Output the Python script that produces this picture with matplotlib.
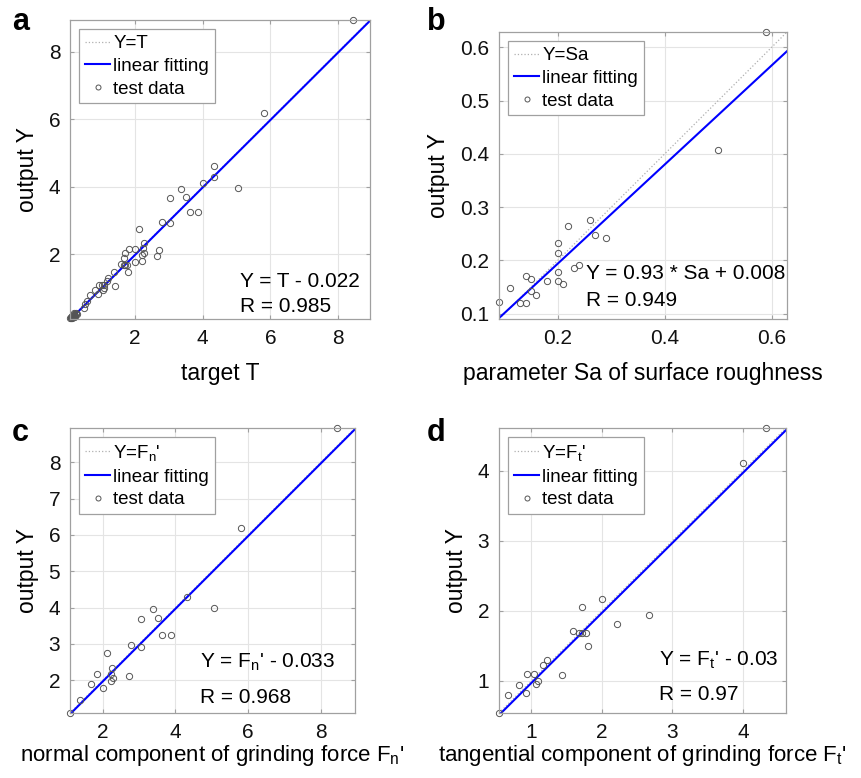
import matplotlib
matplotlib.use("Agg")
import matplotlib.pyplot as plt
import numpy as np

plt.rcParams['font.family'] = ['Liberation Sans', 'DejaVu Sans']
plt.rcParams['mathtext.fontset'] = 'custom'
plt.rcParams['mathtext.rm'] = 'Liberation Sans'
plt.rcParams['mathtext.it'] = 'Liberation Sans'

# ---- data ----
b_target = [0.589, 0.499, 0.260, 0.219, 0.270, 0.290, 0.200, 0.200, 0.240, 0.230, 0.200,
            0.140, 0.150, 0.179, 0.200, 0.210, 0.110, 0.150, 0.160, 0.090, 0.130, 0.140]
b_output = [0.629, 0.408, 0.276, 0.264, 0.248, 0.243, 0.2325, 0.214, 0.191, 0.185, 0.179,
            0.171, 0.165, 0.162, 0.161, 0.156, 0.148, 0.142, 0.135, 0.1225, 0.120, 0.120]

c_target = [8.45, 5.81, 4.33, 5.05, 3.37, 3.52, 3.05, 3.64, 3.87, 2.79, 3.05,
            2.13, 2.26, 2.23, 1.84, 2.28, 2.22, 2.72, 1.69, 2.00, 1.38, 1.10]
c_output = [8.94, 6.19, 4.30, 3.98, 3.95, 3.71, 3.68, 3.25, 3.25, 2.96, 2.92,
            2.75, 2.33, 2.18, 2.17, 2.05, 1.99, 2.12, 1.90, 1.79, 1.47, 1.11]

d_target = [4.33, 4.00, 2.00, 1.71, 2.67, 2.22, 1.59, 1.68, 1.72, 1.78, 1.80,
            1.22, 1.17, 1.43, 0.94, 1.03, 1.10, 1.07, 0.825, 0.92, 0.67, 0.54]
d_output = [4.61, 4.11, 2.17, 2.05, 1.94, 1.81, 1.71, 1.68, 1.68, 1.68, 1.49,
            1.30, 1.22, 1.08, 1.09, 1.09, 1.00, 0.96, 0.94, 0.82, 0.79, 0.545]

# panel a shows all test data together
a_target = b_target + c_target + d_target
a_output = b_output + c_output + d_output

fits = {'a': (1.0, -0.022), 'b': (0.93, 0.008), 'c': (1.0, -0.033), 'd': (1.0, -0.03)}
eq_texts = {'a': "Y = T - 0.022", 'b': "Y = 0.93 * Sa + 0.008",
            'c': r"Y = F$_\mathregular{n}$' - 0.033", 'd': r"Y = F$_\mathregular{t}$' - 0.03"}
r_texts = {'a': "R = 0.985", 'b': "R = 0.949", 'c': "R = 0.968", 'd': "R = 0.97"}
ident_labels = {'a': "Y=T", 'b': "Y=Sa", 'c': r"Y=F$_\mathregular{n}$'", 'd': r"Y=F$_\mathregular{t}$'"}
xlabels = {'a': "target T", 'b': "parameter Sa of surface roughness",
           'c': r"normal component of grinding force F$_\mathregular{n}$'",
           'd': r"tangential component of grinding force F$_\mathregular{t}$'"}
xticks = {'a': [2, 4, 6, 8], 'b': [0.2, 0.4, 0.6], 'c': [2, 4, 6, 8], 'd': [1, 2, 3, 4]}
yticks = {'a': [2, 4, 6, 8], 'b': [0.1, 0.2, 0.3, 0.4, 0.5, 0.6],
          'c': [2, 3, 4, 5, 6, 7, 8], 'd': [1, 2, 3, 4]}
data = {'a': (a_target, a_output), 'b': (b_target, b_output),
        'c': (c_target, c_output), 'd': (d_target, d_output)}

W, H = 861, 778
fig = plt.figure(figsize=(W / 100, H / 100), dpi=100)

# axes boxes in pixels: left, top, right, bottom
boxes = {'a': (70, 20, 370, 319), 'b': (499, 32, 787, 319),
         'c': (70, 428, 355, 713), 'd': (499, 428, 786, 713)}
text_pos = {'a': (0.567, 0.125, 0.041), 'b': (0.301, 0.157, 0.066),
            'c': (0.456, 0.176, 0.054), 'd': (0.559, 0.185, 0.064)}
label_pos = {'a': (12, 22), 'b': (427, 22), 'c': (12, 433), 'd': (427, 433)}
xlabel_style = {'a': (16.5, 10), 'b': (16.5, 10), 'c': (16.0, 1), 'd': (16.0, 1)}

edge = '#a0a0a0'
for key in ['a', 'b', 'c', 'd']:
    l, t, r, btm = boxes[key]
    ax = fig.add_axes([l / W, (H - btm) / H, (r - l) / W, (btm - t) / H])
    xt, yo = data[key]
    lo = min(min(xt), min(yo))
    hi = max(max(xt), max(yo))
    lims = np.array([lo, hi])
    ax.plot(lims, lims, linestyle=':', color='#b0b0b0', linewidth=0.9, label=ident_labels[key])
    m, c0 = fits[key]
    ax.plot(lims, m * lims + c0, color='#0000ff', linewidth=1.5, label='linear fitting')
    ax.plot(xt, yo, linestyle='none', marker='o', markersize=4.5, markerfacecolor='none',
            markeredgecolor='#555555', markeredgewidth=0.7, label='test data', clip_on=False)
    ax.set_xlim(lo, hi)
    ax.set_ylim(lo, hi)
    ax.set_xticks(xticks[key])
    ax.set_yticks(yticks[key])
    ax.grid(True, color='#e4e4e4', linewidth=0.8)
    ax.set_axisbelow(True)
    for s in ax.spines.values():
        s.set_color(edge)
        s.set_linewidth(0.9)
    ax.tick_params(direction='in', length=3, color=edge, labelsize=15, labelcolor='#111111',
                   top=True, right=True, pad=7)
    fs, lp = xlabel_style[key]
    ax.set_xlabel(xlabels[key], fontsize=fs, labelpad=lp)
    ax.set_ylabel('output Y', fontsize=16.5, labelpad=7)
    leg = ax.legend(loc='upper left', fontsize=13.5, handlelength=1.35, handletextpad=0.15,
                    borderpad=0.3, labelspacing=0.3, fancybox=False, framealpha=1,
                    edgecolor=edge, borderaxespad=0.5, markerscale=0.8)
    leg.get_frame().set_linewidth(0.9)
    tx, ty1, ty2 = text_pos[key]
    ax.text(tx, ty1, eq_texts[key], transform=ax.transAxes, fontsize=15, va='center', ha='left')
    ax.text(tx, ty2, r_texts[key], transform=ax.transAxes, fontsize=15, va='center', ha='left')
    px, py = label_pos[key]
    fig.text(px / W, 1 - py / H, key, fontsize=22, fontweight='bold', va='center', ha='left')

fig.savefig('out.png', dpi=100)
